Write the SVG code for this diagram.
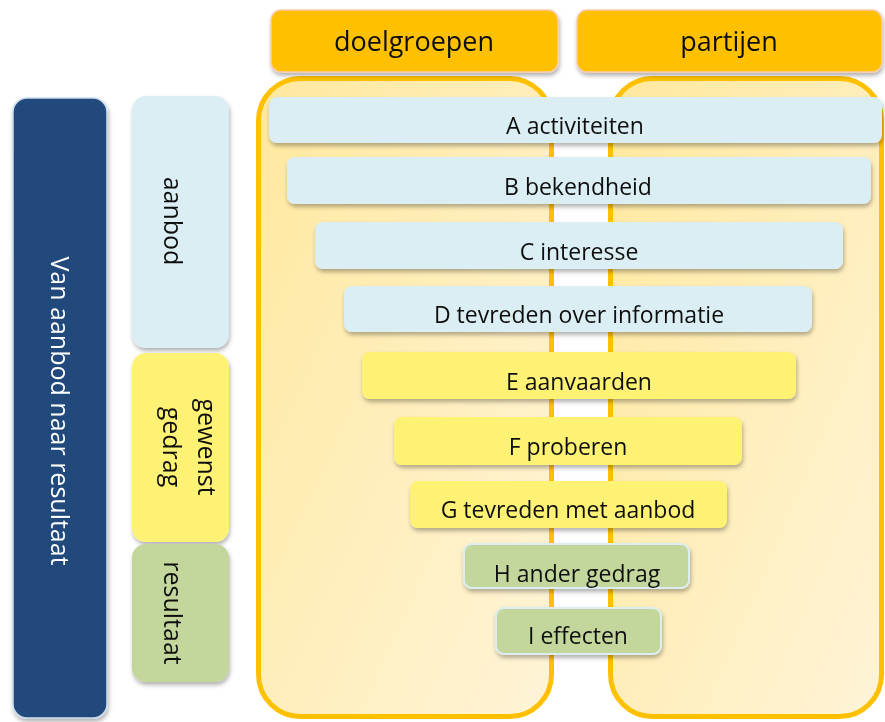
<svg xmlns="http://www.w3.org/2000/svg" width="885" height="722" viewBox="0 0 885 722">
<style>
text{font-family:"Open Sans","Noto Sans","Liberation Sans",sans-serif;fill:#111}
.bar{font-size:23px;text-anchor:middle}
.hdr{font-size:27px;text-anchor:middle}
.side{font-size:25px;text-anchor:middle}
.blue{fill:#DAEEF3}
.yel{fill:#FEF274}
.grn{fill:#C3D69B}
.gb{stroke:#DCEEF2;stroke-width:2}
.cont{fill:url(#cg);stroke:#FFC000;stroke-width:5}
</style>
<defs>
<linearGradient id="cg" x1="0" y1="0" x2="1" y2="1">
<stop offset="0" stop-color="#FFE89E"/>
<stop offset="1" stop-color="#FFF4D8"/>
</linearGradient>
<filter id="sh" x="-10%" y="-20%" width="120%" height="150%">
<feDropShadow dx="1" dy="3" stdDeviation="2" flood-color="#000" flood-opacity="0.3"/>
</filter>
</defs>
<g id="containers">
<rect class="cont" x="258.5" y="78.5" width="293" height="638" rx="42"/>
<rect class="cont" x="610.5" y="78.5" width="271" height="638" rx="42"/>
</g>
<g id="hdr-doelgroepen" filter="url(#sh)">
<rect x="271" y="10" width="287" height="62" rx="10" fill="#FFC000" stroke="#F8CBAD" stroke-width="1.5"/>
<text class="hdr" x="414" y="51">doelgroepen</text>
</g>
<g id="hdr-partijen" filter="url(#sh)">
<rect x="577" y="10" width="305" height="62" rx="10" fill="#FFC000" stroke="#F8CBAD" stroke-width="1.5"/>
<text class="hdr" x="729" y="51">partijen</text>
</g>
<g id="left-main" filter="url(#sh)">
<rect x="13" y="98" width="94" height="620" rx="14" fill="#21497B" stroke="#C9DDEB" stroke-width="1.5"/>
<text class="side" transform="translate(51,411) rotate(90)" x="0" y="0" style="fill:#fff">Van aanbod naar resultaat</text>
</g>
<g id="side-aanbod" filter="url(#sh)">
<rect class="blue" x="132" y="96" width="97" height="252" rx="14"/>
<text class="side" transform="translate(164,221) rotate(90)" x="0" y="0">aanbod</text>
</g>
<g id="side-gedrag" filter="url(#sh)">
<rect class="yel" x="132" y="353" width="97" height="189" rx="14"/>
<text class="side" transform="translate(198,447) rotate(90)" x="0" y="0">gewenst</text>
<text class="side" transform="translate(163,447) rotate(90)" x="0" y="0">gedrag</text>
</g>
<g id="side-resultaat" filter="url(#sh)">
<rect class="grn" x="132" y="544" width="97" height="138" rx="14"/>
<text class="side" transform="translate(164,613) rotate(90)" x="0" y="0">resultaat</text>
</g>
<g id="bar-A" filter="url(#sh)">
<rect class="blue" x="269" y="97" width="613" height="46" rx="8"/>
<text class="bar" x="575" y="134">A activiteiten</text>
</g>
<g id="bar-B" filter="url(#sh)">
<rect class="blue" x="287" y="157" width="584" height="47" rx="8"/>
<text class="bar" x="578" y="195">B bekendheid</text>
</g>
<g id="bar-C" filter="url(#sh)">
<rect class="blue" x="315" y="222" width="528" height="47" rx="8"/>
<text class="bar" x="579" y="260">C interesse</text>
</g>
<g id="bar-D" filter="url(#sh)">
<rect class="blue" x="344" y="286" width="468" height="46" rx="8"/>
<text class="bar" x="579" y="323">D tevreden over informatie</text>
</g>
<g id="bar-E" filter="url(#sh)">
<rect class="yel" x="362" y="352" width="434" height="47" rx="8"/>
<text class="bar" x="579" y="390">E aanvaarden</text>
</g>
<g id="bar-F" filter="url(#sh)">
<rect class="yel" x="394" y="417" width="348" height="48" rx="8"/>
<text class="bar" x="568" y="455">F proberen</text>
</g>
<g id="bar-G" filter="url(#sh)">
<rect class="yel" x="410" y="481" width="317" height="47" rx="8"/>
<text class="bar" x="568" y="518">G tevreden met aanbod</text>
</g>
<g id="bar-H" filter="url(#sh)">
<rect class="grn gb" x="464" y="544" width="225" height="44" rx="8"/>
<text class="bar" x="577" y="582">H ander gedrag</text>
</g>
<g id="bar-I" filter="url(#sh)">
<rect class="grn gb" x="496" y="608" width="165" height="46" rx="8"/>
<text class="bar" x="578" y="644">I effecten</text>
</g>
<g id="connectors"/>
</svg>
